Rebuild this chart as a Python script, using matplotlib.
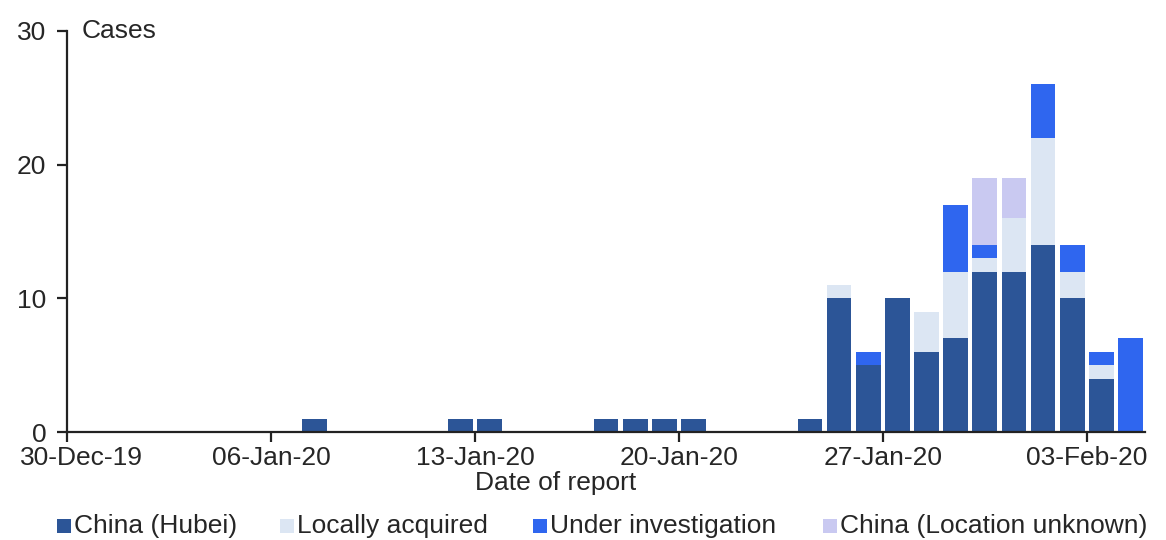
import matplotlib
matplotlib.use("Agg")
import matplotlib.pyplot as plt
import matplotlib.transforms as mtransforms
from matplotlib.patches import Rectangle
import numpy as np
import pandas as pd

# data: report dates and case counts per source
report_dates = ["07-Jan-20", "12-Jan-20", "13-Jan-20", "17-Jan-20", "18-Jan-20",
                "19-Jan-20", "20-Jan-20", "24-Jan-20", "25-Jan-20", "26-Jan-20",
                "27-Jan-20", "28-Jan-20", "29-Jan-20", "30-Jan-20", "31-Jan-20",
                "01-Feb-20", "02-Feb-20", "03-Feb-20", "04-Feb-20"]
hubei = [1, 1, 1, 1, 1, 1, 1, 1, 10, 5, 10, 6, 7, 12, 12, 14, 10, 4, 0]
local = [0, 0, 0, 0, 0, 0, 0, 0, 1, 0, 0, 3, 5, 1, 4, 8, 2, 1, 0]
investigation = [0, 0, 0, 0, 0, 0, 0, 0, 0, 1, 0, 0, 5, 1, 0, 4, 2, 1, 7]
unknown = [0, 0, 0, 0, 0, 0, 0, 0, 0, 0, 0, 0, 0, 5, 3, 0, 0, 0, 0]

series_names = ["China (Hubei)", "Locally acquired", "Under investigation",
                "China (Location unknown)"]
colors = ["#2c5597", "#dce6f3", "#2f66ef", "#c9c9f1"]

start = pd.Timestamp("2019-12-30")
tick_dates = ["30-Dec-19", "06-Jan-20", "13-Jan-20", "20-Jan-20", "27-Jan-20", "03-Feb-20"]

TXT = "#262626"
FS = 19

days = np.array([(pd.to_datetime(d, format="%d-%b-%y") - start).days for d in report_dates])
ticks = [(pd.to_datetime(d, format="%d-%b-%y") - start).days for d in tick_dates]

fig = plt.figure(figsize=(11.66, 5.4), dpi=100)
ax = fig.add_axes([67 / 1166, 1 - 432 / 540, (1145 - 67) / 1166, (432 - 31) / 540])

bottom = np.zeros(len(days))
for vals, col in zip([hubei, local, investigation, unknown], colors):
    vals = np.array(vals, dtype=float)
    ax.bar(days + 0.5, vals, width=0.85, bottom=bottom, color=col, linewidth=0)
    bottom += vals

ax.set_xlim(0, 37)
ax.set_ylim(0, 30)
ax.set_yticks([0, 10, 20, 30])
ax.set_xticks(ticks)
ax.set_xticklabels(tick_dates)

for s in ["top", "right"]:
    ax.spines[s].set_visible(False)
for s in ["left", "bottom"]:
    ax.spines[s].set_linewidth(1.6)
    ax.spines[s].set_color("#222222")

ax.tick_params(axis="both", direction="out", length=7, width=1.6, color="#222222",
               labelsize=FS, labelcolor=TXT)
ax.tick_params(axis="y", pad=8)
ax.tick_params(axis="x", pad=3)

# first date label sits a bit right of its tick
first = ax.get_xticklabels()[0]
first.set_transform(first.get_transform() +
                    mtransforms.ScaledTranslation(14 / 100, 0, fig.dpi_scale_trans))

ax.text(0.5, 30, "Cases", fontsize=FS, color=TXT, va="center", ha="left")

fig.text(556 / 1166, 1 - 483 / 540, "Date of report", fontsize=FS, color=TXT,
         ha="center", va="center")

# legend, laid out by hand
leg_x = [57, 280, 533, 823]
leg_y = 1 - 526 / 540
sq_w, sq_h = 14 / 1166, 14 / 540
for x, name, col in zip(leg_x, series_names, colors):
    fig.patches.append(Rectangle((x / 1166, leg_y - sq_h / 2), sq_w, sq_h,
                                 transform=fig.transFigure, color=col, linewidth=0))
    fig.text((x + 17) / 1166, leg_y, name, fontsize=FS, color=TXT,
             ha="left", va="center")

for t in fig.findobj(matplotlib.text.Text):
    t.set_fontfamily("Liberation Sans")

fig.savefig("out.png", dpi=100)
